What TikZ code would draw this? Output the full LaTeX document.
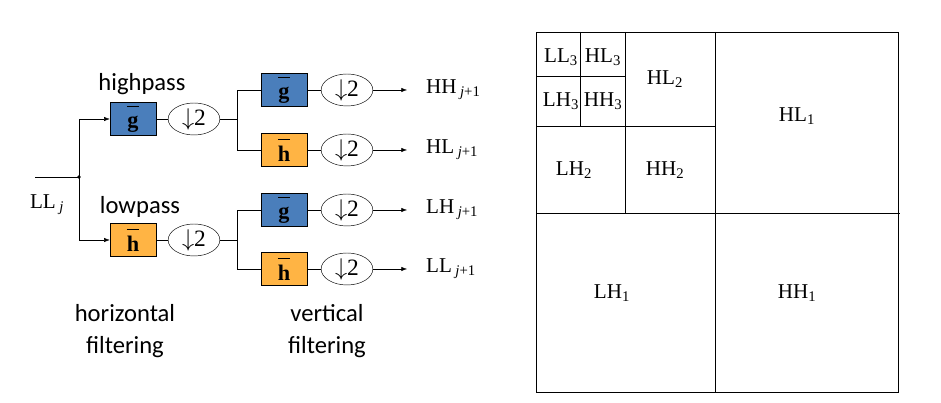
\documentclass[tikz,border=0pt]{standalone}
\usepackage{fontspec}
\setmainfont{Liberation Serif}
\setsansfont{Carlito}
\usetikzlibrary{arrows.meta, positioning, shapes.geometric}
\definecolor{gblue}{HTML}{4A7EBB}
\definecolor{horange}{HTML}{FFB444}
\newcommand{\fbar}[1]{$\overline{\mbox{#1}\rule{0pt}{0.9em}}$}
\begin{document}
\begin{tikzpicture}[x=0.03cm, y=-0.03cm, thin,
    filt/.style={draw, minimum width=1.38cm, minimum height=1cm, inner sep=0pt, font=\fontsize{19}{19}\selectfont\bfseries},
    gbox/.style={filt, fill=gblue},
    hbox/.style={filt, fill=horange},
    down/.style={draw, ellipse, minimum width=1.55cm, minimum height=0.96cm, inner sep=0pt, font=\fontsize{20}{20}\selectfont},
    lbl/.style={font=\sffamily\fontsize{21}{27}\selectfont},
    outlbl/.style={anchor=west, font=\fontsize{18}{18}\selectfont}]
\useasboundingbox (0,0) rectangle (941,403);
% left: filter bank
\node[gbox] (g1) at (133,119) {\fbar{g}};
\node[hbox] (h1) at (133,240) {\fbar{h}};
\node[down] (d1) at (194,119) {$\downarrow$2};
\node[down] (d2) at (194,240) {$\downarrow$2};
\coordinate (split) at (79,177);
\coordinate (in) at (35,177);
\fill (split) circle (1.6pt);
\draw (in) -- (split);
\draw[-Latex] (split) |- (g1);
\draw[-Latex] (split) |- (h1);
\draw (g1) -- (d1);
\draw (h1) -- (d2);
\node[font=\fontsize{18}{18}\selectfont] (llj) at (47,205) {LL\,\textsubscript{\itshape j}};
\node[lbl] (hp) at (142,84) {highpass};
\node[lbl] (lp) at (140,207) {lowpass};
% second stage
\foreach \nm/\st/\y/\src/\txt/\ch in {a/gbox/90/d1/HH/g, b/hbox/150/d1/HL/h, c/gbox/210/d2/LH/g, d/hbox/269/d2/LL/h}{
  \node[\st] (f\nm) at (284,\y) {\fbar{\ch}};
  \node[down] (e\nm) at (347,\y) {$\downarrow$2};
  \coordinate (o\nm) at (407,\y);
  \coordinate (k\nm) at (237,\y);
  \draw (\src.east) -- (\src.east -| k\nm) -- (k\nm) -- (f\nm);
  \draw (f\nm) -- (e\nm);
  \draw[-Latex] (e\nm) -- (o\nm);
  \node[outlbl] (t\nm) at (422,\y) {\txt\,\textsubscript{\itshape j\upshape+1}};
}
\node[lbl, align=center] (hf) at (125,331) {horizontal\\filtering};
\node[lbl, align=center] (vf) at (327,331) {vertical\\filtering};
% right: subband layout
\draw (536,32) rectangle (898,392);
\draw (715,32) -- (715,392);
\draw (536,213) -- (900,213);
\draw (625,32) -- (625,213);
\draw (536,126) -- (715,126);
\draw (580,32) -- (580,126);
\draw (536,76) -- (625,76);
\begin{scope}[every node/.style={font=\fontsize{18}{18}\selectfont}]
\node (ll3) at (561,57) {LL\textsubscript{3}};
\node (hl3) at (603,57) {HL\textsubscript{3}};
\node (lh3) at (561,101) {LH\textsubscript{3}};
\node (hh3) at (603,101) {HH\textsubscript{3}};
\node (hl2) at (665,79) {HL\textsubscript{2}};
\node (lh2) at (574,170) {LH\textsubscript{2}};
\node (hh2) at (665,170) {HH\textsubscript{2}};
\node (hl1) at (797,116) {HL\textsubscript{1}};
\node (lh1) at (612,293) {LH\textsubscript{1}};
\node (hh1) at (797,293) {HH\textsubscript{1}};
\end{scope}
\end{tikzpicture}
\end{document}
